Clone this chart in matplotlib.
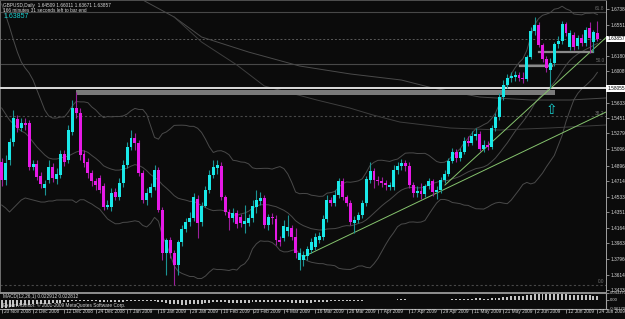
import numpy as np
import pandas as pd
import matplotlib
matplotlib.use("Agg")
import matplotlib.pyplot as plt

# GBPUSD daily bars, 20 Nov 2008 .. 24 Jun 2009
opens = [1.4939, 1.4727, 1.4962, 1.5174, 1.5445, 1.5339, 1.5397, 1.5397, 1.4880, 1.4915,
         1.4774, 1.4633, 1.4727, 1.4880, 1.4739, 1.4786, 1.5033, 1.4962, 1.5292, 1.5574,
         1.5515, 1.5033, 1.4939, 1.4810, 1.4716, 1.4751, 1.4657, 1.4410, 1.4410, 1.4586,
         1.4527, 1.4692, 1.4904, 1.5115, 1.5221, 1.5162, 1.4810, 1.4492, 1.4574, 1.4645,
         1.4845, 1.4374, 1.3869, 1.4022, 1.3869, 1.3728, 1.3998, 1.4151, 1.4233, 1.4280,
         1.4504, 1.4233, 1.4421, 1.4610, 1.4786, 1.4868, 1.4892, 1.4527, 1.4351, 1.4280,
         1.4339, 1.4292, 1.4210, 1.4222, 1.4280, 1.4410, 1.4480, 1.4516, 1.4198, 1.4292,
         1.4269, 1.4022, 1.4045, 1.4128, 1.4163, 1.4057, 1.3786, 1.3786, 1.3833, 1.3904,
         1.3939, 1.4022, 1.4057, 1.4269, 1.4492, 1.4457, 1.4551, 1.4716, 1.4527, 1.4457,
         1.4222, 1.4257, 1.4316, 1.4457, 1.4727, 1.4833, 1.4727, 1.4716, 1.4692, 1.4645,
         1.4645, 1.4845, 1.4892, 1.4927, 1.4892, 1.4668, 1.4574, 1.4598, 1.4563, 1.4657,
         1.4716, 1.4586, 1.4610, 1.4727, 1.4798, 1.4951, 1.5056, 1.4986, 1.5056, 1.5186,
         1.5162, 1.5245, 1.5268, 1.5092, 1.5139, 1.5115, 1.5339, 1.5468, 1.5703, 1.5844,
         1.5927, 1.5939, 1.5962, 1.5927, 1.5915, 1.6174, 1.6479, 1.6550, 1.6315, 1.6150,
         1.6021, 1.6103, 1.6327, 1.6362, 1.6562, 1.6291, 1.6432, 1.6303, 1.6397, 1.6338,
         1.6515, 1.6350, 1.64509]
closes = [1.4727, 1.4927, 1.5174, 1.5456, 1.5339, 1.5397, 1.5374, 1.4880, 1.4915, 1.4763,
          1.4680, 1.4680, 1.4880, 1.4751, 1.4798, 1.5033, 1.4939, 1.5315, 1.5574, 1.5515,
          1.5021, 1.4927, 1.4810, 1.4716, 1.4668, 1.4610, 1.4410, 1.4433, 1.4574, 1.4527,
          1.4692, 1.4904, 1.5115, 1.5221, 1.5162, 1.4810, 1.4492, 1.4574, 1.4645, 1.4845,
          1.4374, 1.3869, 1.4022, 1.3869, 1.3728, 1.3998, 1.4151, 1.4233, 1.4280, 1.4527,
          1.4222, 1.4421, 1.4610, 1.4786, 1.4880, 1.4904, 1.4527, 1.4351, 1.4280, 1.4339,
          1.4210, 1.4222, 1.4245, 1.4280, 1.4421, 1.4492, 1.4516, 1.4198, 1.4292, 1.4280,
          1.4022, 1.3998, 1.4186, 1.4175, 1.4057, 1.3869, 1.3869, 1.3845, 1.3916, 1.3998,
          1.4057, 1.4069, 1.4269, 1.4492, 1.4457, 1.4551, 1.4716, 1.4527, 1.4457, 1.4233,
          1.4257, 1.4316, 1.4457, 1.4739, 1.4833, 1.4727, 1.4716, 1.4692, 1.4668, 1.4668,
          1.4845, 1.4892, 1.4927, 1.4892, 1.4668, 1.4574, 1.4598, 1.4563, 1.4657, 1.4716,
          1.4586, 1.4610, 1.4727, 1.4798, 1.4951, 1.5056, 1.4986, 1.5056, 1.5186, 1.5162,
          1.5245, 1.5268, 1.5092, 1.5139, 1.5115, 1.5339, 1.5468, 1.5703, 1.5844, 1.5927,
          1.5950, 1.5962, 1.5927, 1.5915, 1.6174, 1.6479, 1.6550, 1.6315, 1.6150, 1.6044,
          1.6103, 1.6327, 1.6362, 1.6562, 1.6456, 1.6456, 1.6291, 1.6397, 1.6338, 1.6491,
          1.6397, 1.6468, 1.63857]
highs = [1.4986, 1.5021, 1.5221, 1.5550, 1.5492, 1.5456, 1.5456, 1.5433, 1.4962, 1.4962,
         1.4821, 1.4727, 1.4962, 1.4927, 1.4868, 1.5080, 1.5080, 1.5374, 1.5668, 1.5762,
         1.5574, 1.5080, 1.4986, 1.4845, 1.4751, 1.4786, 1.4692, 1.4492, 1.4633, 1.4633,
         1.4751, 1.4962, 1.5174, 1.5315, 1.5280, 1.5198, 1.4845, 1.4633, 1.4692, 1.4904,
         1.4880, 1.4410, 1.4045, 1.4057, 1.3904, 1.4022, 1.4198, 1.4280, 1.4351, 1.4574,
         1.4551, 1.4468, 1.4657, 1.4845, 1.4962, 1.4962, 1.4939, 1.4551, 1.4386, 1.4398,
         1.4374, 1.4327, 1.4433, 1.4327, 1.4492, 1.4610, 1.4586, 1.4551, 1.4327, 1.4339,
         1.4316, 1.4069, 1.4257, 1.4316, 1.4198, 1.4163, 1.3928, 1.3892, 1.3951, 1.4045,
         1.4104, 1.4116, 1.4316, 1.4551, 1.4527, 1.4610, 1.4751, 1.4751, 1.4551, 1.4492,
         1.4304, 1.4351, 1.4492, 1.4774, 1.4939, 1.4868, 1.4774, 1.4763, 1.4727, 1.4704,
         1.4904, 1.4939, 1.4974, 1.4962, 1.4939, 1.4704, 1.4657, 1.4692, 1.4680, 1.4751,
         1.4739, 1.4657, 1.4763, 1.4845, 1.4986, 1.5104, 1.5092, 1.5104, 1.5233, 1.5245,
         1.5303, 1.5339, 1.5303, 1.5198, 1.5186, 1.5374, 1.5515, 1.5750, 1.5903, 1.5974,
         1.5997, 1.6009, 1.5997, 1.5997, 1.6197, 1.6527, 1.6644, 1.6585, 1.6338, 1.6185,
         1.6162, 1.6350, 1.6421, 1.6597, 1.6585, 1.6491, 1.6468, 1.6432, 1.6444, 1.6527,
         1.6585, 1.6491, 1.66011]
lows = [1.4657, 1.4668, 1.4904, 1.5127, 1.5292, 1.5303, 1.5315, 1.4845, 1.4845, 1.4727,
        1.4633, 1.4551, 1.4692, 1.4704, 1.4680, 1.4751, 1.4892, 1.4927, 1.5256, 1.5456,
        1.4962, 1.4880, 1.4751, 1.4657, 1.4610, 1.4574, 1.4374, 1.4386, 1.4363, 1.4492,
        1.4492, 1.4645, 1.4868, 1.5080, 1.5080, 1.4774, 1.4457, 1.4433, 1.4527, 1.4610,
        1.4351, 1.3786, 1.3610, 1.3810, 1.3492, 1.3610, 1.3951, 1.4116, 1.4186, 1.4245,
        1.4045, 1.4186, 1.4410, 1.4574, 1.4751, 1.4798, 1.4492, 1.4316, 1.4139, 1.4233,
        1.4163, 1.4175, 1.4104, 1.4186, 1.4233, 1.4339, 1.4433, 1.4163, 1.4139, 1.4210,
        1.3963, 1.3951, 1.4010, 1.4069, 1.4022, 1.3810, 1.3669, 1.3716, 1.3786, 1.3869,
        1.3904, 1.3986, 1.4022, 1.4233, 1.4421, 1.4421, 1.4516, 1.4492, 1.4421, 1.4198,
        1.4104, 1.4222, 1.4280, 1.4421, 1.4692, 1.4633, 1.4668, 1.4645, 1.4610, 1.4610,
        1.4610, 1.4798, 1.4845, 1.4833, 1.4633, 1.4527, 1.4527, 1.4504, 1.4527, 1.4621,
        1.4539, 1.4504, 1.4574, 1.4692, 1.4774, 1.4927, 1.4939, 1.4951, 1.5033, 1.5127,
        1.5139, 1.5198, 1.5068, 1.5056, 1.5080, 1.5092, 1.5303, 1.5433, 1.5668, 1.5809,
        1.5880, 1.5891, 1.5891, 1.5868, 1.5891, 1.6150, 1.6432, 1.6291, 1.6115, 1.5997,
        1.5809, 1.6068, 1.6280, 1.6327, 1.6421, 1.6256, 1.6256, 1.6268, 1.6303, 1.6303,
        1.6221, 1.6232, 1.63671]

# Bollinger band values before the 20-bar window fills (bars 0..18)
bb_upper_head = [1.6797, 1.6668, 1.6527, 1.6374, 1.6232, 1.6115, 1.6044, 1.5986, 1.5903, 1.5786,
                 1.5668, 1.5550, 1.5480, 1.5456, 1.5456, 1.5468, 1.5468, 1.5527, 1.5597]
bb_mid_head = [1.5574, 1.5503, 1.5433, 1.5386, 1.5339, 1.5303, 1.5280, 1.5233, 1.5174, 1.5115,
               1.5068, 1.5021, 1.4986, 1.4974, 1.4974, 1.4986, 1.4998, 1.5009, 1.5033]
bb_lower_head = [1.4433, 1.4398, 1.4351, 1.4398, 1.4445, 1.4492, 1.4516, 1.4504, 1.4492, 1.4480,
                 1.4468, 1.4468, 1.4480, 1.4480, 1.4492, 1.4492, 1.4492, 1.4492, 1.4492]

# long moving averages (bar index, price)
ma_a_idx = [30, 36, 44, 51, 63, 76, 89, 102, 110, 122, 135, 145, 154.2]
ma_a_val = [1.7020, 1.6844, 1.6644, 1.6409, 1.6232, 1.6068, 1.5974, 1.5903, 1.5809, 1.5703,
            1.5668, 1.5668, 1.5692]
ma_b_idx = [44, 51, 60, 67, 80.4, 88.8, 94.7, 101.6, 114.4, 127.1, 139.9, 154.2]
ma_b_val = [1.6644, 1.6350, 1.6080, 1.5833, 1.5668, 1.5574, 1.5492, 1.5409, 1.5339, 1.5315,
            1.5339, 1.5374]

# MACD(12,26,1) main values per bar, in thousandths
macd_k = [-58, -55, -50, -46, -42, -38, -35, -33, -32, -30, -28, -27, -26, -24, -22, -20, -18, -15,
          -12, -10, -9, -9, -10, -11, -12, -13, -15, -17, -18, -18, -17, -15, -12, -9, -7, -7, -9,
          -11, -12, -12, -13, -17, -22, -26, -30, -32, -33, -33, -32, -30, -29, -27, -25, -22, -19,
          -17, -18, -19, -20, -20, -21, -21, -21, -20, -19, -17, -16, -17, -17, -17, -18, -19, -19,
          -19, -20, -21, -22, -22, -21, -20, -19, -18, -16, -13, -11, -9, -7, -6, -6, -6, -7, -7,
          -6, -4, -2, -1, -1, -1, -1, -1, 0, 1, 1, 1, 0, -1, -2, -3, -3, -3, -3, -3, -3, -2, -1, 1,
          2, 3, 5, 6, 7, 8, 8, 7, 7, 8, 10, 13, 16, 19, 21, 23, 24, 25, 28, 32, 36, 37, 37, 36, 34,
          34, 34, 34, 34, 33, 32, 31, 29, 28, 27, 26, 23]

date_labels = ["20 Nov 2008", "2 Dec 2008", "12 Dec 2008", "24 Dec 2008", "7 Jan 2009",
               "19 Jan 2009", "29 Jan 2009", "10 Feb 2009", "20 Feb 2009", "4 Mar 2009",
               "16 Mar 2009", "26 Mar 2009", "7 Apr 2009", "17 Apr 2009", "29 Apr 2009",
               "11 May 2009", "21 May 2009", "2 Jun 2009", "12 Jun 2009", "24 Jun 2009"]
price_ticks = [1.67380, 1.65515, 1.61805, 1.60085, 1.56330, 1.54515, 1.52790, 1.50965,
               1.48965, 1.47140, 1.45330, 1.43515, 1.41645, 1.39830, 1.37960, 1.36145, 1.34330]
last_price = 1.63857
hline_price = 1.58055
fib_levels = {"0.0": 1.3492, "38.2": 1.5477, "50.0": 1.6090, "61.8": 1.6703}

BG = "#0b0b0b"
BULL, BEAR = "#19e8e8", "#e619e6"
BULL_W, BEAR_W = "#1b9494", "#9c1f9c"
TXT = "#d8d8d8"
plt.rcParams["font.family"] = ["Liberation Sans", "DejaVu Sans"]
FS = 3.4

W, H = 625, 319
fig = plt.figure(figsize=(W / 100, H / 100), dpi=100)
fig.patch.set_facecolor(BG)
ax = fig.add_axes([0, 28 / H, 606 / W, 291 / H])
ax.set_facecolor(BG)
XL = (-0.43, 154.2)
ax.set_xlim(*XL)
ax.set_ylim(1.3422, 1.6844)

opens, closes, highs, lows = map(np.array, (opens, closes, highs, lows))
n = len(closes)
idx = np.arange(n)
up = closes >= opens

# fibonacci levels and bid line
for name, lvl in fib_levels.items():
    ls = "-" if name in ("50.0", "61.8") else (0, (2, 2))
    ax.axhline(lvl, color="#484848", lw=0.8, ls=ls, zorder=1)
    ax.text(153.8, lvl + 0.0008, name, color="#707070", fontsize=FS, ha="right", va="bottom")
ax.axhline(last_price, color="#5a5a5a", lw=0.7, ls=(0, (2, 2)), zorder=1)

# Bollinger bands (20, 2)
s = pd.Series(closes)
mid = s.rolling(20).mean().values
sd = s.rolling(20).std(ddof=0).values
head = idx < 19
mid[head] = bb_mid_head
upper = mid + 2 * np.nan_to_num(sd)
lower = mid - 2 * np.nan_to_num(sd)
upper[head] = bb_upper_head
lower[head] = bb_lower_head
for band in (upper, mid, lower):
    ax.plot(idx, band, color="#4a4a4a", lw=0.7, zorder=2)
ax.plot(ma_a_idx, ma_a_val, color="#4a4a4a", lw=0.7, zorder=2)
ax.plot(ma_b_idx, ma_b_val, color="#3e3e3e", lw=0.7, zorder=2)

# support zone, level and short levels
ax.fill_between([19.0, 141.2], 1.5721, 1.5786, color="#7a7a7a", lw=0, zorder=2)
ax.axhline(hline_price, color="#dcdcdc", lw=1.4, zorder=3)
ax.plot([137.1, 150.8], [1.6232, 1.6232], color="#8a8a8a", lw=1.6, zorder=3)
ax.plot([132.2, 140.4], [1.6068, 1.6068], color="#8a8a8a", lw=1.6, zorder=3)

# trend lines
ax.plot([76.9, 154.2], [1.3822, 1.5527], color="#86c46e", lw=0.7, zorder=3)
ax.plot([113.1, 154.2], [1.4668, 1.6402], color="#86c46e", lw=0.7, zorder=3)

# candles
ax.vlines(idx[up], lows[up], highs[up], color=BULL_W, lw=0.8, zorder=4)
ax.vlines(idx[~up], lows[~up], highs[~up], color=BEAR_W, lw=0.8, zorder=4)
body = np.maximum(np.abs(closes - opens), 0.0008)
bottom = np.minimum(opens, closes)
ax.bar(idx[up], body[up], bottom=bottom[up], width=0.75, color=BULL, lw=0, zorder=5)
ax.bar(idx[~up], body[~up], bottom=bottom[~up], width=0.75, color=BEAR, lw=0, zorder=5)

ax.text(140.2, 1.5550, "\u21e7", color="#19d0d0", fontsize=10, ha="center", va="center", zorder=6)

ax.yaxis.tick_right()
ax.set_yticks(price_ticks)
ax.set_yticklabels([f"{v:.5f}" for v in price_ticks])
ax.tick_params(axis="y", colors="#a0a0a0", labelcolor=TXT, labelsize=FS, length=2, width=0.6, pad=1)
ax.set_xticks([])
ax.spines["bottom"].set_visible(False)
ax.spines["top"].set_color("#505050")
ax.spines["left"].set_color("#707070")
ax.spines["right"].set_color("#a0a0a0")
for sp in ("left", "right", "top"):
    ax.spines[sp].set_linewidth(0.7)

for v in (last_price, hline_price):
    ax.text(1.002, v, f"{v:.5f}", transform=ax.get_yaxis_transform(), fontsize=FS, color="black",
            va="center", ha="left", bbox=dict(boxstyle="square,pad=0.2", fc="white", ec="none"))

# header texts
fig.text(3 / W, 1 - 5 / H, "GBPUSD,Daily  1.64509 1.66011 1.63671 1.63857", color=TXT, fontsize=FS, va="center")
fig.text(3 / W, 1 - 10 / H, "166 minutes 31 seconds left to bar end", color=TXT, fontsize=FS, va="center")
fig.text(3 / W, 1 - 16 / H, "1.63857", color="#19d0d0", fontsize=5, va="center")

# MACD window
fig.add_artist(plt.Line2D([0, 606 / W], [1 - 292.5 / H] * 2, color="#909090", lw=1.4))
mx = fig.add_axes([0, 10 / H, 606 / W, 16 / H])
mx.set_facecolor(BG)
macd = np.array(macd_k) / 1000.0
mx.bar(idx, macd, width=0.5, color="#c4c4c4", lw=0)
mx.set_xlim(*XL)
mx.set_ylim(-0.0617, 0.04337)
mx.yaxis.tick_right()
mx.set_yticks([0.04337, 0.0, -0.0617])
mx.set_yticklabels(["0.043370", "0.00", "-0.061700"])
mx.tick_params(axis="y", colors="#a0a0a0", labelcolor=TXT, labelsize=3, length=2, width=0.6, pad=1)
mx.set_xticks(np.arange(0, n, 8))
mx.set_xticklabels([])
mx.tick_params(axis="x", colors="#a0a0a0", length=3, width=0.6, direction="out")
for side in ("top", "left"):
    mx.spines[side].set_visible(False)
mx.spines["right"].set_color("#a0a0a0")
mx.spines["bottom"].set_color("#a0a0a0")
mx.text(0.005, 0.78, "MACD(12,26,1) 0.022912 0.022812", transform=mx.transAxes, color=TXT, fontsize=FS, va="center")
mx.text(0.005, 0.25, "Expert Advisor: \u00a9 2001-2009 MetaQuotes Software Corp.", transform=mx.transAxes,
        color=TXT, fontsize=FS, va="center")

for k, lab in enumerate(date_labels):
    mx.text(8 * k + 0.5, -0.0617, lab, color=TXT, fontsize=FS, ha="left", va="top",
            transform=mx.transData, clip_on=False)

fig.savefig("out.png", dpi=100, facecolor=BG)
